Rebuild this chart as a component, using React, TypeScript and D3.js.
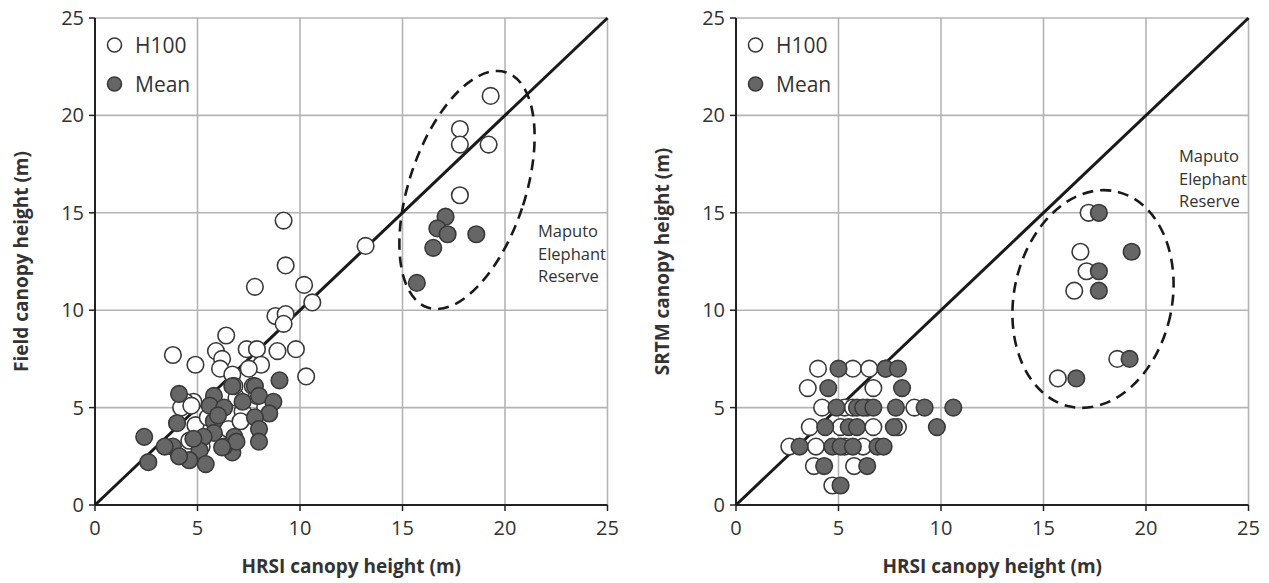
import React from "react";
import * as d3 from "d3";

const ticks = [0, 5, 10, 15, 20, 25];
const tickLabels = ["0", "5", "10", "15", "20", "25"];

const fieldH100: [number, number][] = [
  [19.3, 21.0], [17.8, 19.3], [17.8, 18.5], [19.2, 18.5], [17.8, 15.9], [13.2, 13.3],
  [9.2, 14.6], [9.3, 12.3], [7.8, 11.2], [10.2, 11.3], [10.6, 10.4], [8.8, 9.7],
  [9.3, 9.8], [9.2, 9.3], [6.4, 8.7], [3.8, 7.7], [4.9, 7.2], [5.9, 7.9],
  [6.2, 7.5], [7.4, 8.0], [7.9, 8.0], [8.9, 7.9], [9.8, 8.0], [6.1, 7.0],
  [8.1, 7.2], [7.5, 7.0], [10.3, 6.6], [6.7, 6.7], [6.9, 5.5], [4.8, 5.3],
  [7.7, 6.1], [7.2, 4.8], [4.4, 5.3], [4.2, 5.0], [4.9, 4.1], [6.8, 6.1],
  [4.6, 3.3], [4.7, 5.1], [5.5, 4.5], [6.5, 3.9], [7.1, 4.3], [5.2, 3.0],
  [8.3, 5.0], [7.9, 5.6],
];

const fieldMean: [number, number][] = [
  [17.1, 14.8], [16.7, 14.2], [17.2, 13.9], [16.5, 13.2], [18.6, 13.9], [15.7, 11.4],
  [9.0, 6.4], [6.7, 6.1], [4.1, 5.7], [5.8, 5.6], [7.8, 6.1], [8.0, 5.6],
  [8.7, 5.3], [5.6, 5.1], [6.3, 5.0], [8.5, 4.7], [7.8, 4.5], [4.0, 4.2],
  [5.8, 4.3], [8.0, 3.9], [2.4, 3.5], [5.8, 3.7], [6.8, 3.5], [5.3, 3.5],
  [3.8, 3.0], [3.4, 3.0], [8.0, 3.25], [5.1, 2.8], [6.7, 2.7], [6.3, 3.0],
  [4.6, 2.3], [5.4, 2.1], [2.6, 2.2], [4.1, 2.5], [6.9, 3.25], [4.8, 3.4],
  [6.2, 2.96], [6.0, 4.6], [7.2, 5.3],
];

const srtmH100: [number, number][] = [
  [17.2, 15], [16.8, 13], [17.1, 12], [16.5, 11], [18.6, 7.5], [15.7, 6.5],
  [4.0, 7], [5.7, 7], [6.5, 7], [7.3, 7],
  [3.5, 6], [6.7, 6],
  [4.2, 5], [5.3, 5], [5.7, 5], [6.4, 5], [8.7, 5],
  [3.6, 4], [5.1, 4], [6.7, 4], [7.9, 4],
  [2.6, 3], [3.9, 3], [5.3, 3], [6.2, 3],
  [3.8, 2], [5.76, 2],
  [4.7, 1],
];

const srtmMean: [number, number][] = [
  [17.7, 15], [19.3, 13], [17.7, 12], [17.7, 11], [19.2, 7.5], [16.6, 6.5],
  [5.0, 7], [7.3, 7], [7.9, 7],
  [4.5, 6], [8.1, 6],
  [4.9, 5], [5.9, 5], [6.2, 5], [6.7, 5], [7.8, 5], [9.2, 5], [10.6, 5],
  [4.35, 4], [5.5, 4], [5.9, 4], [7.7, 4], [9.8, 4],
  [3.1, 3], [4.7, 3], [5.1, 3], [5.7, 3], [6.9, 3], [7.2, 3],
  [4.3, 2], [6.4, 2],
  [5.1, 1],
];

const FONT = "'Open Sans', 'Noto Sans', sans-serif";
const TXT = "#333";

type PanelProps = {
  x0: number;
  yLabel: string;
  h100: [number, number][];
  mean: [number, number][];
  ellipse: { cx: number; cy: number; rx: number; ry: number; rot: number };
  noteX: number;
  noteY: number;
  yLabelX: number;
};

function Panel({ x0, yLabel, h100, mean, ellipse, noteX, noteY, yLabelX }: PanelProps) {
  const x = d3.scaleLinear().domain([0, 25]).range([x0, x0 + 512.5]);
  const y = d3.scaleLinear().domain([0, 25]).range([505, 18]);
  const line = d3.line<[number, number]>().x((d) => x(d[0])).y((d) => y(d[1]));
  const r = 8.3;
  return (
    <g>
      {ticks.map((t) => (
        <line key={"gx" + t} x1={x(t)} x2={x(t)} y1={y(0)} y2={y(25)} stroke="#b4b4b4" strokeWidth={1.6} />
      ))}
      {ticks.map((t) => (
        <line key={"gy" + t} x1={x(0)} x2={x(25)} y1={y(t)} y2={y(t)} stroke="#b4b4b4" strokeWidth={1.6} />
      ))}
      <line x1={x(0)} x2={x(0)} y1={y(0)} y2={y(25)} stroke="#222" strokeWidth={2} />
      <line x1={x(0)} x2={x(25)} y1={y(0)} y2={y(0)} stroke="#222" strokeWidth={2} />
      {ticks.map((t, i) => (
        <g key={"tx" + t}>
          <line x1={x(t)} x2={x(t)} y1={y(0)} y2={y(0) + 6} stroke="#222" strokeWidth={1.5} />
          <text x={x(t)} y={y(0) + 30} textAnchor="middle" fontSize={20} fontFamily={FONT} fill={TXT}>
            {tickLabels[i]}
          </text>
        </g>
      ))}
      {ticks.map((t, i) => (
        <g key={"ty" + t}>
          <line x1={x(0) - 6} x2={x(0)} y1={y(t)} y2={y(t)} stroke="#222" strokeWidth={1.5} />
          <text x={x(0) - 11} y={y(t) + 7} textAnchor="end" fontSize={20} fontFamily={FONT} fill={TXT}>
            {tickLabels[i]}
          </text>
        </g>
      ))}
      <text x={x(12.5)} y={y(0) + 68} textAnchor="middle" fontSize={19} fontWeight="bold" fontFamily={FONT} fill={TXT}>
        HRSI canopy height (m)
      </text>
      <text
        transform={`translate(${yLabelX},${y(12.5)}) rotate(-90)`}
        textAnchor="middle"
        fontSize={19}
        fontWeight="bold"
        fontFamily={FONT}
        fill={TXT}
      >
        {yLabel}
      </text>
      <path d={line([[0, 0], [25, 25]]) || ""} stroke="#1a1a1a" strokeWidth={3} fill="none" />
      <ellipse
        cx={ellipse.cx}
        cy={ellipse.cy}
        rx={ellipse.rx}
        ry={ellipse.ry}
        transform={`rotate(${ellipse.rot},${ellipse.cx},${ellipse.cy})`}
        fill="none"
        stroke="#1a1a1a"
        strokeWidth={2.6}
        strokeDasharray="11 7"
      />
      {h100.map((d, i) => (
        <circle key={"h" + i} cx={x(d[0])} cy={y(d[1])} r={r} fill="#fff" stroke="#3a3a3a" strokeWidth={1.6} />
      ))}
      {mean.map((d, i) => (
        <circle key={"m" + i} cx={x(d[0])} cy={y(d[1])} r={r} fill="#666" stroke="#3a3a3a" strokeWidth={1.6} />
      ))}
      <circle cx={x0 + 19.5} cy={45} r={7} fill="#fff" stroke="#3a3a3a" strokeWidth={1.6} />
      <text x={x0 + 40} y={52.5} fontSize={21} fontFamily={FONT} fill={TXT}>H100</text>
      <circle cx={x0 + 19.5} cy={84} r={7} fill="#666" stroke="#3a3a3a" strokeWidth={1.6} />
      <text x={x0 + 40} y={91.5} fontSize={21} fontFamily={FONT} fill={TXT}>Mean</text>
      {["Maputo", "Elephant", "Reserve"].map((s, i) => (
        <text key={s} x={noteX} y={noteY + i * 22.5} fontSize={16.5} fontFamily={FONT} fill={TXT}>
          {s}
        </text>
      ))}
    </g>
  );
}

export default function App() {
  return (
    <svg
      width={1269}
      height={583}
      style={{ position: "absolute", left: 0, top: 0, background: "#fff" }}
    >
      <Panel
        x0={95}
        yLabel="Field canopy height (m)"
        h100={fieldH100}
        mean={fieldMean}
        ellipse={{ cx: 467, cy: 190, rx: 58, ry: 124, rot: 18.5 }}
        noteX={538}
        noteY={237}
        yLabelX={28}
      />
      <Panel
        x0={736}
        yLabel="SRTM canopy height (m)"
        h100={srtmH100}
        mean={srtmMean}
        ellipse={{ cx: 1093, cy: 299, rx: 79, ry: 110, rot: 12 }}
        noteX={1179}
        noteY={162}
        yLabelX={669}
      />
    </svg>
  );
}
